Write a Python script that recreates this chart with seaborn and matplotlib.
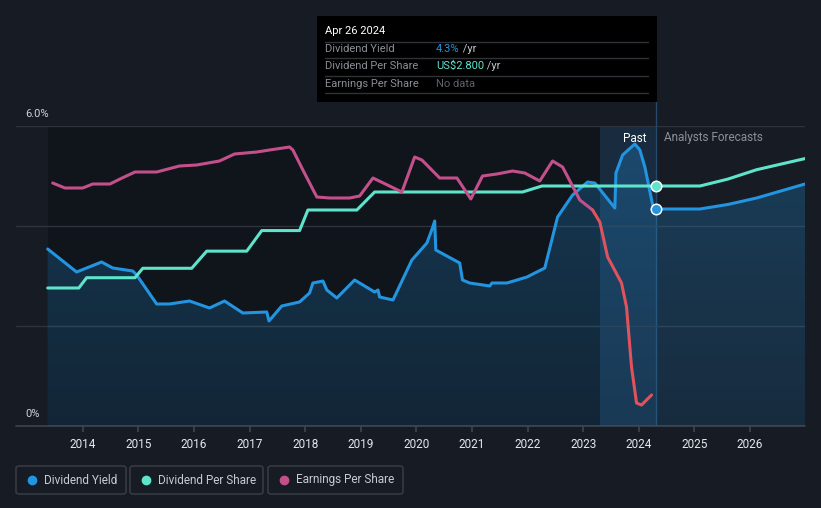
import matplotlib
matplotlib.use("Agg")
import matplotlib.pyplot as plt
import seaborn as sns
import pandas as pd
import numpy as np
from matplotlib.patches import Rectangle, FancyBboxPatch
from matplotlib.lines import Line2D
from matplotlib.colors import LinearSegmentedColormap

# dividend yield (%), past + analyst forecast
yield_years = [2013.37, 2013.89, 2014.34, 2014.54, 2014.90, 2014.97, 2015.33, 2015.56, 2015.92,
               2016.28, 2016.55, 2016.88, 2017.31, 2017.35, 2017.58, 2017.90, 2018.08, 2018.14,
               2018.32, 2018.39, 2018.57, 2018.89, 2019.25, 2019.31, 2019.34, 2019.58, 2019.92,
               2020.19, 2020.29, 2020.33, 2020.35, 2020.78, 2020.83, 2020.96, 2021.32, 2021.36,
               2021.63, 2021.99, 2022.31, 2022.54, 2022.81, 2023.08, 2023.21, 2023.57, 2023.59,
               2023.71, 2023.93, 2024.02, 2024.11, 2024.25, 2024.31]
yield_pct = [3.54, 3.08, 3.28, 3.16, 3.10, 3.02, 2.44, 2.44, 2.50,
             2.36, 2.50, 2.26, 2.28, 2.10, 2.40, 2.48, 2.66, 2.86,
             2.90, 2.72, 2.56, 2.92, 2.68, 2.72, 2.58, 2.52, 3.32,
             3.66, 3.96, 4.10, 3.52, 3.26, 2.92, 2.86, 2.80, 2.86,
             2.86, 2.98, 3.16, 4.18, 4.62, 4.88, 4.86, 4.36, 5.06,
             5.42, 5.64, 5.52, 5.18, 4.42, 4.34]
yield_fc_years = [2024.31, 2025.10, 2025.60, 2026.12, 2026.99]
yield_fc_pct = [4.34, 4.34, 4.43, 4.56, 4.84]

# dividend per share (US$)
dps_years = [2013.37, 2013.93, 2014.07, 2014.94, 2015.08, 2015.96, 2016.23, 2016.95, 2017.22,
             2017.90, 2018.05, 2018.93, 2019.25, 2021.91, 2022.26, 2024.31]
dps_usd = [1.61, 1.61, 1.73, 1.73, 1.84, 1.84, 2.04, 2.04, 2.28,
           2.28, 2.52, 2.52, 2.73, 2.73, 2.80, 2.80]
dps_fc_years = [2024.31, 2025.10, 2025.60, 2026.12, 2026.99]
dps_fc_usd = [2.80, 2.80, 2.88, 2.99, 3.12]

# earnings per share (US$)
eps_years = [2013.46, 2013.68, 2014.00, 2014.18, 2014.49, 2014.67, 2014.94, 2015.33, 2015.74,
             2016.05, 2016.46, 2016.73, 2017.13, 2017.36, 2017.72, 2017.78, 2017.96, 2018.21,
             2018.44, 2018.80, 2018.98, 2019.22, 2019.74, 2019.97, 2020.10, 2020.42, 2020.73,
             2020.98, 2021.19, 2021.45, 2021.73, 2021.95, 2022.22, 2022.45, 2022.63, 2022.94,
             2023.17, 2023.30, 2023.44, 2023.69, 2023.78, 2023.87, 2023.96, 2024.05, 2024.23]
eps_usd = [4.86, 4.76, 4.76, 4.84, 4.84, 4.94, 5.08, 5.08, 5.20,
           5.22, 5.30, 5.44, 5.48, 5.52, 5.58, 5.52, 5.12, 4.58,
           4.56, 4.56, 4.60, 4.96, 4.68, 5.38, 5.32, 4.96, 4.96,
           4.54, 5.00, 5.04, 5.10, 5.06, 4.90, 5.30, 5.18, 4.52,
           4.32, 4.08, 3.38, 2.86, 2.38, 1.18, 0.46, 0.42, 0.62]

year_ticks = list(range(2014, 2027))
past_start, today = 2023.30, 2024.31

BG = "#161b24"
DARK = "#10141b"
BLUE = "#2394df"
TEAL = "#5fe3cb"
PINK = "#c4508b"
RED = "#e0525c"

sns.set_theme(style="dark")
plt.rcParams["font.family"] = ["Roboto", "DejaVu Sans"]
plt.rcParams["lines.solid_joinstyle"] = "round"
plt.rcParams["lines.solid_capstyle"] = "round"

fig = plt.figure(figsize=(8.21, 5.08), dpi=100, facecolor=BG)
ax = fig.add_axes([16 / 821, 1 - 426 / 508, 789 / 821, 300 / 508])
ax.set_facecolor(BG)

df_y = pd.DataFrame({"year": yield_years, "value": yield_pct})
df_yf = pd.DataFrame({"year": yield_fc_years, "value": yield_fc_pct})
df_d = pd.DataFrame({"year": dps_years + dps_fc_years, "value": dps_usd + dps_fc_usd})
df_e = pd.DataFrame({"year": eps_years, "value": eps_usd})

x0, x1 = 2012.80, 2026.99
ax.set_xlim(x0, x1)
ax.set_ylim(0, 6)

# backgrounds: darker past area + highlighted last year
ax.axvspan(yield_years[0], past_start, color=DARK, zorder=0, lw=0)
ax.axvspan(past_start, today, color="#1c4468", alpha=0.4, zorder=0.5, lw=0)

# gridlines
for g in [2, 4, 6]:
    ax.axhline(g, color="#2e333c", lw=1, zorder=1)
ax.axhline(0, color="#3e444d", lw=1.2, zorder=1, clip_on=False)

# gradient fill under the yield line
all_x = np.array(yield_years + yield_fc_years[1:])
all_y = np.array(yield_pct + yield_fc_pct[1:])
poly = ax.fill_between(all_x, all_y, 0, color="none", lw=0)
fill_cmap = LinearSegmentedColormap.from_list(
    "fill", [(0.14, 0.58, 0.87, 0.14), (0.14, 0.58, 0.87, 0.30)])
img = ax.imshow(np.linspace(0, 1, 256).reshape(-1, 1), extent=[x0, x1, 0, 6], origin="lower",
                aspect="auto", cmap=fill_cmap, vmin=0, vmax=1, zorder=1.5)
img.set_clip_path(poly.get_paths()[0], transform=ax.transData)

sns.lineplot(data=df_y, x="year", y="value", ax=ax, color=BLUE, lw=2.2, zorder=4, sort=False)
sns.lineplot(data=df_yf, x="year", y="value", ax=ax, color=BLUE, lw=2.2, zorder=4, sort=False)

# dividend per share on its own hidden scale
ax_d = ax.twinx()
ax_d.set_ylim(0, 3.5)
sns.lineplot(data=df_d, x="year", y="value", ax=ax_d, color=TEAL, lw=2.2, zorder=4, sort=False)

# earnings per share on its own hidden scale
ax_e = ax.twinx()
ax_e.set_ylim(0, 6)
past = df_e[df_e["year"] <= 2023.17]
drop = df_e[df_e["year"] >= 2023.17]
sns.lineplot(data=past, x="year", y="value", ax=ax_e, color=PINK, lw=2.2, sort=False)
sns.lineplot(data=drop, x="year", y="value", ax=ax_e, color=RED, lw=2.2, sort=False)

# today markers: white ring underneath, coloured dot on top
for val, col, tr in [(yield_pct[-1], BLUE, ax.transData), (dps_usd[-1], TEAL, ax_d.transData)]:
    ax_e.scatter([today], [val], s=75, color="white", linewidths=0, zorder=10, transform=tr)
    ax_e.scatter([today], [val], s=42, color=col, linewidths=0, zorder=11, transform=tr)

for a in (ax, ax_d, ax_e):
    a.set_xlim(x0, x1)
    a.set_xlabel("")
    a.set_ylabel("")
    for s in a.spines.values():
        s.set_visible(False)
    a.grid(False)
ax_d.set_ylim(0, 3.5)
ax_e.set_ylim(0, 6)
ax_d.set_yticks([])
ax_e.set_yticks([])

ax.set_yticks([])
ax.set_xticks(year_ticks)
ax.set_xticklabels([str(y) for y in year_ticks], color="#e6e8eb", fontsize=8.5)
ax.tick_params(axis="x", length=4, color="#3e444d", pad=5, bottom=True)

# y labels above gridlines
fig.text(25 / 821, 1 - 114 / 508, "6.0%", color="#d0d3d8", fontsize=8, va="center")
fig.text(25 / 821, 1 - 414 / 508, "0%", color="#d0d3d8", fontsize=8, va="center")

# past / forecast labels
fig.text(647 / 821, 1 - 138 / 508, "Past", color="white", fontsize=8.5, ha="right", va="center")
fig.text(664 / 821, 1 - 138 / 508, "Analysts Forecasts", color="#8c9199", fontsize=8.5,
         ha="left", va="center")

# vertical marker line at today, behind the axes content
ax.axvline(today, color="#25496b", lw=1, zorder=0.6)
fig.add_artist(Line2D([656 / 821, 656 / 821], [1 - 126 / 508, 1 - 101 / 508],
                      color="#25496b", lw=1, transform=fig.transFigure))

# tooltip box
fig.patches.append(Rectangle((317 / 821, 1 - 102 / 508), 340 / 821, 86 / 508,
                             transform=fig.transFigure, facecolor="#000000", edgecolor="none",
                             zorder=5))
fig.text(325 / 821, 1 - 31 / 508, "Apr 26 2024", color="white", fontsize=8, va="center", zorder=6)
for yy in [42, 58, 76, 93]:
    fig.add_artist(Line2D([325 / 821, 648 / 821], [1 - yy / 508, 1 - yy / 508],
                          color="#2f3237", lw=1, transform=fig.transFigure, zorder=6))
rows = [("Dividend Yield", "4.3%", BLUE, " /yr", 49),
        ("Dividend Per Share", "US$2.800", TEAL, " /yr", 66),
        ("Earnings Per Share", "No data", "#5d6168", "", 84)]
for label, val, col, unit, yy in rows:
    fig.text(325 / 821, 1 - yy / 508, label, color="#8a8e95", fontsize=8, va="center", zorder=6)
    t = fig.text(436 / 821, 1 - yy / 508, val, color=col, fontsize=8, va="center", zorder=6)
    if unit:
        fig.canvas.draw()
        bb = t.get_window_extent()
        fig.text(bb.x1 / fig.bbox.width, 1 - yy / 508, unit, color="#c3c6cc", fontsize=8,
                 va="center", zorder=6)

# legend boxes
legend_items = [("Dividend Yield", BLUE, 16, 126), ("Dividend Per Share", TEAL, 130, 263),
                ("Earnings Per Share", PINK, 268, 403)]
for name, col, left, right in legend_items:
    fig.patches.append(FancyBboxPatch((left / 821, 1 - 494 / 508), (right - left) / 821, 28 / 508,
                                      boxstyle="round,pad=0,rounding_size=0.004",
                                      transform=fig.transFigure, facecolor="none",
                                      edgecolor="#3a3f48", lw=1))
    fig.add_artist(Line2D([(left + 15.5) / 821], [1 - 480 / 508], marker="o", ms=6,
                          color=col, transform=fig.transFigure))
    fig.text((left + 28) / 821, 1 - 480 / 508, name, color="#c8ccd2", fontsize=8.5, va="center")

fig.savefig("out.png", dpi=100, facecolor=BG)
